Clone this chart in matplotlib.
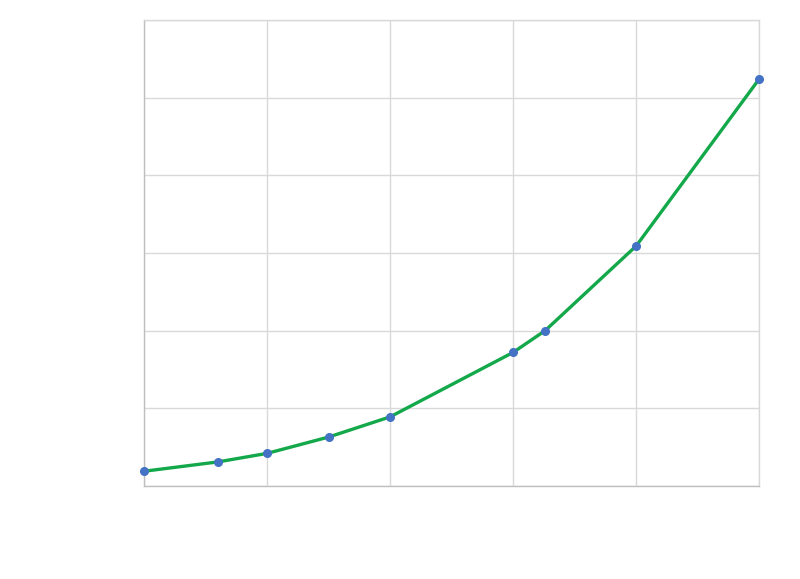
import matplotlib
matplotlib.use("Agg")
import matplotlib.pyplot as plt

# values (grid units)
x_vals = [0.0, 0.6, 1.0, 1.5, 2.0, 3.0, 3.26, 4.0, 5.0]
y_vals = [0.19, 0.31, 0.42, 0.63, 0.89, 1.72, 2.0, 3.09, 5.24]

fig = plt.figure(figsize=(8.0, 5.79), dpi=100)
ax = fig.add_axes([0.18, 0.1606, 0.769, 0.805])

ax.plot(x_vals, y_vals, color="#13a84a", linewidth=2.4, zorder=3)
ax.plot(x_vals, y_vals, linestyle="none", marker="o", markersize=5.5,
        color="#4472c4", zorder=4, clip_on=False)

ax.set_xlim(0, 5)
ax.set_ylim(0, 6)
ax.set_xticks(range(0, 6))
ax.set_yticks(range(0, 7))
ax.grid(True, color="#d9d9d9", linewidth=1.0)
ax.tick_params(length=0, labelbottom=False, labelleft=False)
for side in ["top", "right"]:
    ax.spines[side].set_color("#d9d9d9")
for side in ["left", "bottom"]:
    ax.spines[side].set_color("#bfbfbf")
for s in ax.spines.values():
    s.set_linewidth(1.0)
ax.set_axisbelow(True)

fig.savefig("out.png", dpi=100)
